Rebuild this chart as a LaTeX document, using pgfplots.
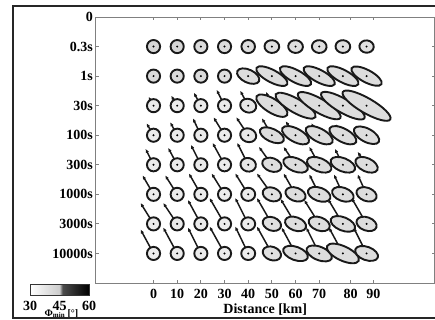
\documentclass[border=0pt]{standalone}
\usepackage{pgfplots}
\usepackage{pgfplotstable}
\pgfplotsset{compat=1.18}
\usetikzlibrary{arrows.meta,calc}
\usepackage{fontspec}
\setmainfont{Liberation Serif}

\pgfdeclareplotmark{ell}{%
  \pgfpathellipse{\pgfpointorigin}{\pgfpointpolar{\ellang}{\ella pt}}{\pgfpointpolar{\ellangb}{\ellb pt}}%
  \pgfusepathqfillstroke
  \pgfpathcircle{\pgfpointorigin}{1.1pt}%
  \pgfsetfillcolor{black}%
  \pgfusepathqfill
}

\pgfplotstableread{
x y a b ang angb phi
0 1 6.6 6.6 0 90 42
10 1 6.6 6.6 0 90 42
20 1 6.6 6.6 0 90 41
30 1 6.6 6.6 0 90 40
40 1 6.8 6.6 0 90 40
50 1 7.4 6.4 -5 85 39
60 1 7.4 6.4 -5 85 39
70 1 7.4 6.4 -5 85 39
80 1 7.4 6.4 -5 85 39
90 1 7.2 6.2 -5 85 39
0 2 6.6 6.6 0 90 41
10 2 6.6 6.6 0 90 41
20 2 6.6 6.6 0 90 41
30 2 6.6 6.6 0 90 40
40 2 12 6.5 -25 65 40
50 2 17.5 6.2 -28 62 40
60 2 17.5 6.2 -28 62 40
70 2 17.5 6.2 -28 62 40
80 2 17.5 6.2 -28 62 40
90 2 17 6.2 -28 62 40
0 3 6.6 6.6 0 90 36
10 3 6.6 6.6 0 90 36
20 3 6.6 6.6 0 90 36
30 3 6.6 6.6 0 90 36
40 3 8.2 6.8 -20 70 37
50 3 18 7 -32 58 40
60 3 23 7 -30 60 40
70 3 24.5 7 -30 60 40
80 3 25 7 -30 60 40
90 3 27.5 7.5 -30 60 40
0 4 6.6 6.6 0 90 36
10 4 6.6 6.6 0 90 36
20 4 6.6 6.6 0 90 36
30 4 6.6 6.6 0 90 36
40 4 8.2 6.8 -20 70 37
50 4 13 6.4 -25 65 40
60 4 15 6.7 -28 62 40
70 4 15 6.7 -28 62 40
80 4 15 6.7 -28 62 40
90 4 14 6.7 -28 62 40
0 5 6.6 6.6 0 90 36
10 5 6.6 6.6 0 90 36
20 5 6.6 6.6 0 90 36
30 5 6.6 6.6 0 90 36
40 5 7.8 6.8 -15 75 37
50 5 10 6.7 -20 70 40
60 5 13 6.7 -22 68 40
70 5 13 6.7 -22 68 40
80 5 13 6.7 -22 68 40
90 5 12 6.7 -25 65 40
0 6 6.6 6.6 0 90 36
10 6 6.6 6.6 0 90 36
20 6 6.6 6.6 0 90 36
30 6 6.6 6.6 0 90 36
40 6 7 6.6 0 90 36
50 6 9.5 6.7 -20 70 39
60 6 10.5 6.7 -20 70 40
70 6 11.8 6.7 -20 70 40
80 6 11.3 6.7 -20 70 40
90 6 10.5 6.7 -20 70 40
0 7 6.6 6.6 0 90 36
10 7 6.6 6.6 0 90 36
20 7 6.6 6.6 0 90 36
30 7 6.6 6.6 0 90 36
40 7 7 6.6 0 90 36
50 7 9.5 6.7 -20 70 39
60 7 11 6.7 -20 70 40
70 7 11 6.7 -20 70 40
80 7 13 6.7 -22 68 40
90 7 10.5 6.7 -20 70 40
0 8 6.6 6.6 0 90 36
10 8 6.6 6.6 0 90 36
20 8 6.6 6.6 0 90 36
30 8 6.6 6.6 0 90 36
40 8 7 6.6 0 90 36
50 8 9.5 6.7 -20 70 39
60 8 13 6.7 -20 70 40
70 8 13.5 6.7 -22 68 40
80 8 17.5 7.2 -25 65 40
90 8 12 6.7 -20 70 40
}\ellipses

\pgfplotstableread{
x y u v
0 3 -2.11 -0.304
10 3 -2.53 -0.338
20 3 -2.96 -0.439
30 3 -3.38 -0.541
40 3 -3.38 -0.507
50 3 -2.53 -0.473
60 3 -2.11 -0.338
70 3 -2.11 -0.338
80 3 -1.69 -0.304
90 3 -1.69 -0.270
0 4 -2.96 -0.405
10 4 -2.96 -0.439
20 4 -3.38 -0.574
30 4 -4.65 -0.608
40 4 -5.07 -0.608
50 4 -4.22 -0.574
60 4 -4.22 -0.473
70 4 -3.38 -0.405
80 4 -2.96 -0.372
90 4 -2.11 -0.304
0 5 -3.38 -0.541
10 5 -3.80 -0.574
20 5 -4.22 -0.676
30 5 -5.07 -0.743
40 5 -4.65 -0.743
50 5 -5.49 -0.608
60 5 -5.07 -0.608
70 5 -4.22 -0.608
80 5 -3.38 -0.541
90 5 -3.80 -0.439
0 6 -4.65 -0.642
10 6 -5.07 -0.642
20 6 -5.07 -0.709
30 6 -5.49 -0.709
40 6 -5.49 -0.709
50 6 -6.34 -0.709
60 6 -5.07 -0.709
70 6 -4.22 -0.676
80 6 -3.80 -0.676
90 6 -3.80 -0.676
0 7 -5.49 -0.709
10 7 -5.91 -0.709
20 7 -5.49 -0.811
30 7 -6.34 -0.878
40 7 -5.49 -0.878
50 7 -6.34 -0.878
60 7 -6.34 -0.845
70 7 -6.34 -0.811
80 7 -6.34 -0.845
90 7 -6.34 -0.878
0 8 -5.49 -0.811
10 8 -5.91 -0.878
20 8 -5.49 -0.878
30 8 -6.34 -0.912
40 8 -5.49 -0.912
50 8 -6.34 -0.912
60 8 -5.91 -0.878
70 8 -5.49 -0.878
80 8 -5.91 -0.878
90 8 -5.49 -0.878
}\arrowsdata

\newcommand\lblfont{\bfseries\fontsize{14bp}{16bp}\selectfont}

\begin{document}
\begin{tikzpicture}
\path[use as bounding box] (-96bp,-37bp) rectangle (339bp,283bp);
\begin{axis}[
  at={(0,0)}, anchor=south west,
  scale only axis, width=338.5bp, height=266bp,
  xmin=-24.3, xmax=118.7, ymin=0, ymax=9, y dir=reverse,
  xtick={0,10,20,30,40,50,60,70,83.3,92.9},
  xticklabels={0,10,20,30,40,50,60,70,80,90},
  ytick={0,1,2,3,4,5,6,7,8},
  yticklabels={0,0.3s,1s,30s,100s,300s,1000s,3000s,10000s},
  tick align=inside, major tick length=3bp,
  axis line style={black!50, line width=1bp},
  tick style={black!50, line width=0.8bp},
  ticklabel style={font=\lblfont},
  xticklabel style={anchor=base, yshift=-15bp},
  yticklabel style={anchor=east, inner sep=0pt, xshift=-3bp},
  xlabel={Distance [km]},
  xlabel style={font=\lblfont, at={(axis description cs:0.5,0)}, anchor=base, yshift=-30bp},
  colormap={phimap}{color(0cm)=(white); color(5cm)=(black!20); color(5.5cm)=(black!70); color(10cm)=(black)},
  point meta min=30, point meta max=60,
  colorbar horizontal,
  colorbar style={
    at={($(parent axis.south west)+(-66bp,7bp)$)}, anchor=north west,
    scale only axis, width=59bp, height=11bp,
    xtick={30,45,60}, xticklabels={30,45,60},
    xticklabel style={font=\lblfont, anchor=base, yshift=-15bp},
    major tick length=0pt,
    axis line style={black!80, line width=0.8bp},
    xlabel={Φ\textsubscript{min} [°]},
    xlabel style={font=\bfseries\fontsize{10bp}{11bp}\selectfont, at={(axis description cs:0.5,0)}, anchor=base, xshift=2bp, yshift=-21bp},
  },
]
\addplot[scatter, only marks, mark=ell,
  point meta=\thisrow{phi},
  visualization depends on={\thisrow{a}\as\ella},
  visualization depends on={\thisrow{b}\as\ellb},
  visualization depends on={\thisrow{ang}\as\ellang},
  visualization depends on={\thisrow{angb}\as\ellangb},
  scatter/use mapped color={draw=black!90, fill=mapped color},
  mark options={line width=1.9bp}] table {\ellipses};
\addplot[quiver={u=\thisrow{u}, v=\thisrow{v}}, black!90, line width=1.5bp,
  -{Latex[length=4bp,width=3.5bp]}] table {\arrowsdata};
\end{axis}
\draw[line width=1.5bp, black!85] (345bp,277bp) -- (-83bp,277bp) -- (-83bp,-35bp) -- (345bp,-35bp);
\end{tikzpicture}
\end{document}
